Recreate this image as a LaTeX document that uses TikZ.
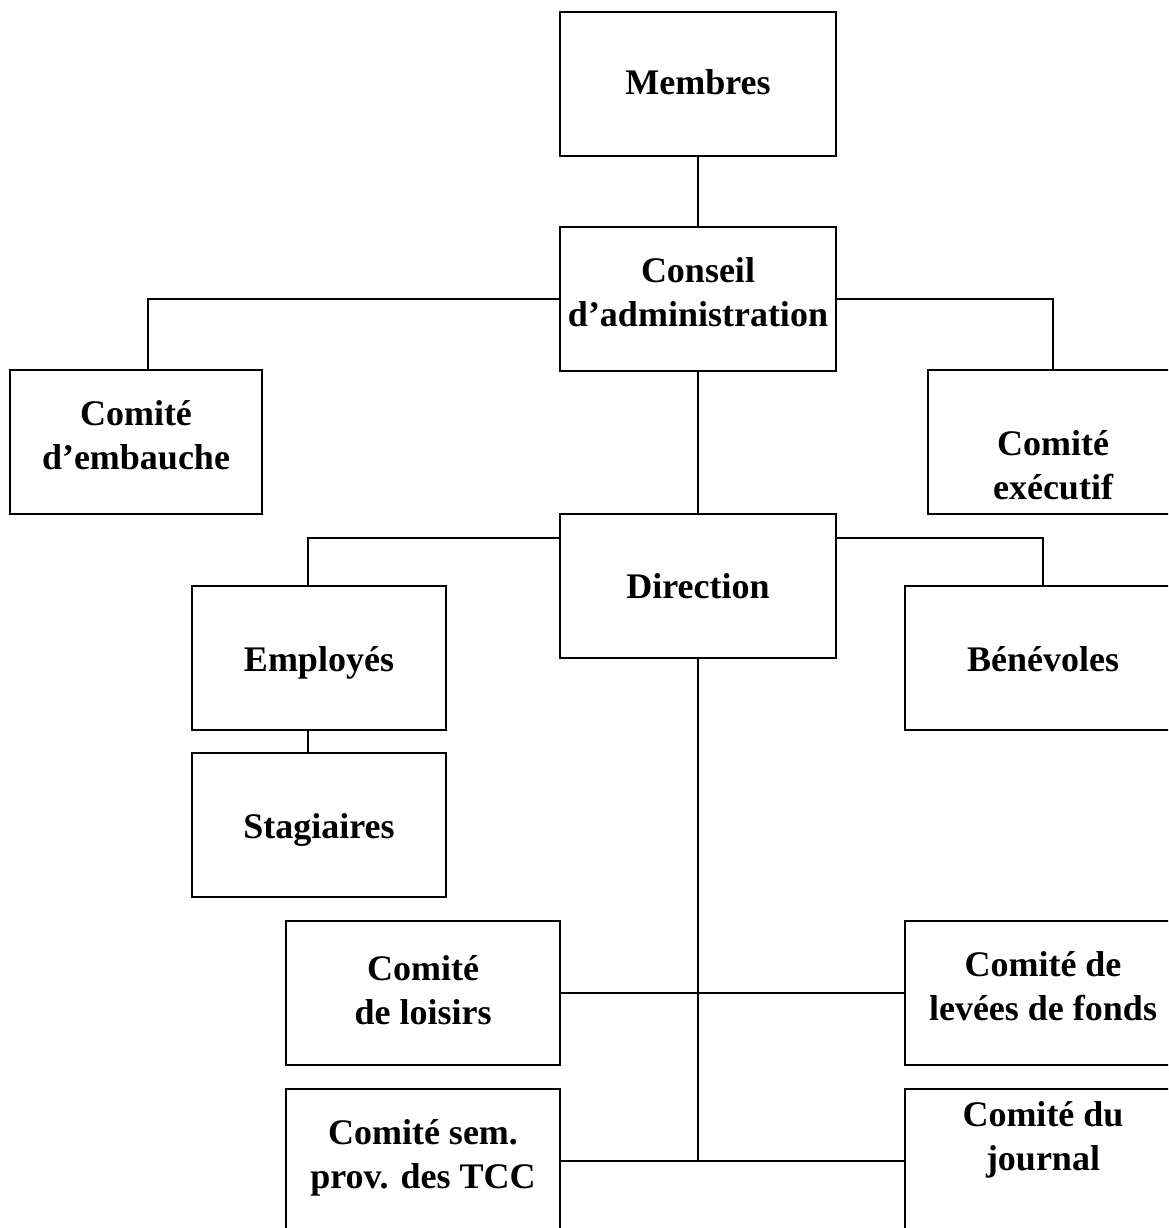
\documentclass[tikz,border=0pt]{standalone}
\usepackage{fontspec}
\setmainfont{Liberation Serif}
\begin{document}
\begin{tikzpicture}[x=1pt,y=-1pt,
  box/.style={draw=black, line width=1.8pt, inner sep=0pt, outer sep=0pt, fill=white},
  lbl/.style={font=\fontsize{36}{44}\selectfont\bfseries, align=center, inner sep=0pt},
  conn/.style={draw=black, line width=1.8pt}]
\useasboundingbox (0,0) rectangle (1168,1228);
\clip (0,0) rectangle (1168,1228);
\fill[white] (0,0) rectangle (1168,1228);
% boxes
\node[box, minimum width=276, minimum height=144] (mem) at (698,84) {};
\node[box, minimum width=276, minimum height=144] (con) at (698,299) {};
\node[box, minimum width=252, minimum height=144] (emb) at (136,442) {};
\node[box, minimum width=250, minimum height=144] (exe) at (1053,442) {};
\node[box, minimum width=276, minimum height=144] (dir) at (698,586) {};
\node[box, minimum width=254, minimum height=144] (emp) at (319,658) {};
\node[box, minimum width=276, minimum height=144] (ben) at (1043,658) {};
\node[box, minimum width=254, minimum height=144] (sta) at (319,825) {};
\node[box, minimum width=274, minimum height=144] (loi) at (423,993) {};
\node[box, minimum width=276, minimum height=144] (lev) at (1043,993) {};
\node[box, minimum width=274, minimum height=144] (sem) at (423,1161) {};
\node[box, minimum width=276, minimum height=144] (jou) at (1043,1161) {};
% connectors
\draw[conn] (mem.south) -- (con.north);
\draw[conn] (con.west) -| ([xshift=12pt]emb.north);
\draw[conn] (con.east) -| (exe.north);
\draw[conn] (con.south) -- (dir.north);
\draw[conn] ([yshift=48pt]dir.west) -| ([xshift=-11pt]emp.north);
\draw[conn] ([yshift=48pt]dir.east) -| (ben.north);
\draw[conn] ([xshift=-11pt]emp.south) -- ([xshift=-11pt]sta.north);
\draw[conn] (dir.south) -- (dir.south |- sem.east);
\draw[conn] (loi.east) -- (lev.west);
\draw[conn] (sem.east) -- (jou.west);
% labels
\node[lbl] (tmem) at (698,82) {Membres};
\node[lbl] (tcon) at (698,292) {Conseil\\d’administration};
\node[lbl] (temb) at (136,435) {Comité\\d’embauche};
\node[lbl] (texe) at (1053,465) {Comité\\exécutif};
\node[lbl] (tdir) at (698,586) {Direction};
\node[lbl] (temp) at (319,663) {Employés};
\node[lbl] (tben) at (1043,659) {Bénévoles};
\node[lbl] (tsta) at (319,830) {Stagiaires};
\node[lbl] (tloi) at (423,990) {Comité\\de loisirs};
\node[lbl] (tlev) at (1043,986) {Comité de\\levées de fonds};
\node[lbl] (tsem) at (423,1158) {Comité sem.\\prov. des TCC};
\node[lbl] (tjou) at (1043,1140) {Comité du\\journal};
\end{tikzpicture}
\end{document}
